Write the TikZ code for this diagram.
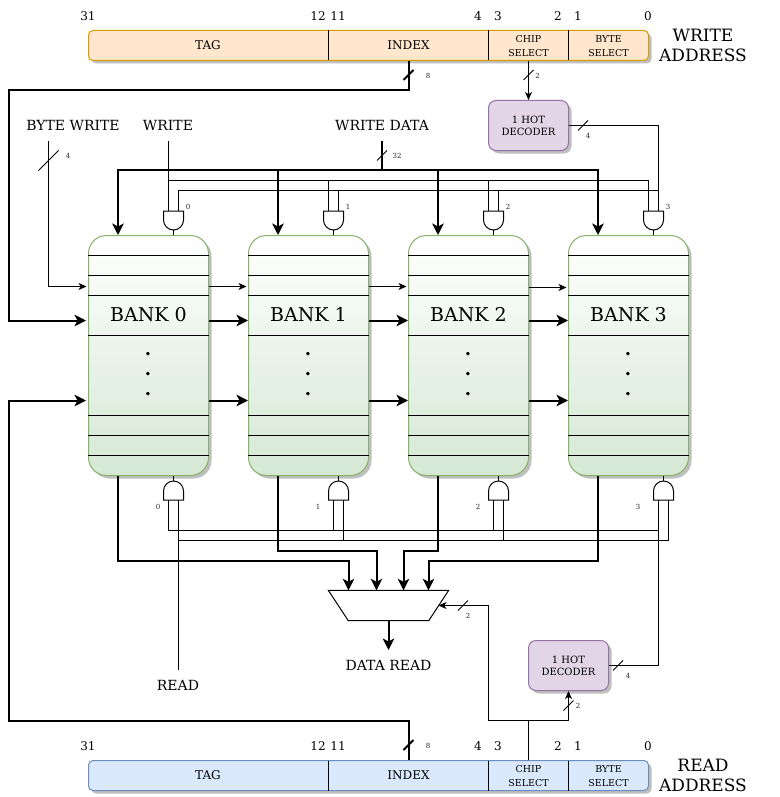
\documentclass[tikz,border=0pt]{standalone}
\usepackage{fontspec}
\setmainfont{DejaVu Serif}
\usetikzlibrary{arrows.meta,shadows,calc}
\definecolor{wfill}{HTML}{FFE6CC}\definecolor{wline}{HTML}{D79B00}
\definecolor{rfill}{HTML}{DAE8FC}\definecolor{rline}{HTML}{6C8EBF}
\definecolor{dfill}{HTML}{E1D5E7}\definecolor{dline}{HTML}{9673A6}
\definecolor{bfill}{HTML}{D5E8D4}\definecolor{bline}{HTML}{82B366}
\tikzset{
  x=1pt,y=-1pt,
  wire/.style={line width=1pt,draw=black},
  bus/.style={line width=2pt,draw=black},
  tipS/.tip={Stealth[length=8pt,width=7pt,inset=2.2pt]},
  tipL/.tip={Stealth[length=11.5pt,width=11.5pt,inset=3pt]},
  wirearrow/.style={wire,-{tipS}},
  busarrow/.style={bus,-{tipL}},
  softshadow/.style={drop shadow={shadow xshift=3pt,shadow yshift=-3pt,fill=black!25,opacity=1}},
  lab/.style={inner sep=0pt,font=\fontsize{12}{14}\selectfont},
  siglab/.style={inner sep=0pt,font=\fontsize{14}{16}\selectfont},
  biglab/.style={inner sep=0pt,align=center,font=\fontsize{17}{20}\selectfont},
  cell/.style={inner sep=0pt,align=center,font=\fontsize{9.5}{14}\selectfont},
  tiny/.style={inner sep=0pt,font=\fontsize{7}{8}\selectfont,text=black!85},
  barbase/.style={rectangle,rounded corners=4.5pt,minimum width=560pt,minimum height=30pt,line width=1pt,inner sep=0pt,softshadow},
  wbar/.style={barbase,fill=wfill,draw=wline},
  rbar/.style={barbase,fill=rfill,draw=rline},
  decoder/.style={rectangle,rounded corners=7.5pt,minimum width=80pt,minimum height=50pt,line width=1pt,fill=dfill,draw=dline,inner sep=0pt,align=center,font=\fontsize{10}{12}\selectfont,softshadow},
  bank/.style={rectangle,rounded corners=18pt,minimum width=120pt,minimum height=240pt,line width=1pt,top color=white,bottom color=bfill,draw=bline,inner sep=0pt,softshadow},
  gatebox/.style={rectangle,minimum width=20pt,minimum height=19pt,inner sep=0pt},
  banktxt/.style={inner sep=0pt,font=\fontsize{19}{20}\selectfont},
  dotmark/.style={inner sep=0pt,anchor=base,font=\bfseries\fontsize{18}{18}\selectfont},
}
\newcommand{\andgate}[4]{%
  \begin{scope}[shift={(#2,#3)},yscale=#4]
    \node[gatebox] (#1) at (0,0) {};
    \draw[wire] (-10,-9.5) -- (10,-9.5) -- (10,-0.5) .. controls (10,5) and (5.5,9.5) .. (0,9.5)
      .. controls (-5.5,9.5) and (-10,5) .. (-10,-0.5) -- cycle;
    \coordinate (#1-a) at (-5,-9.5);
    \coordinate (#1-b) at (5,-9.5);
    \coordinate (#1-o) at (0,9.5);
  \end{scope}}
\newcommand{\busmark}[4][wire]{\draw[#1] ($(#2,#3)+(-#4,#4)$) -- ($(#2,#3)+(#4,-#4)$);}
\begin{document}
\begin{tikzpicture}
\useasboundingbox (0,0) rectangle (779,797);
% rows
\coordinate (rowD) at (0,170);
\coordinate (rowW) at (0,180.5);
\coordinate (rowB) at (0,190.5);
\coordinate (rowA) at (0,286.5);
\coordinate (rowA2) at (0,287.5);
\coordinate (rowI) at (0,320.5);
\coordinate (rowL) at (0,400.5);
\coordinate (rowRa) at (0,530.5);
\coordinate (rowRb) at (0,540.5);
\coordinate (rowO1) at (0,550.5);
\coordinate (rowO2) at (0,560.5);
\coordinate (rowT) at (0,90.5);
\coordinate (rowU) at (0,720.5);
\coordinate (colL) at (8.5,0);
% write address bar
\node[wbar] (wb) at (368.5,45.5) {};
\node[lab] (wtag) at (208,45.5) {TAG};
\node[lab] (windex) at (408.5,45.5) {INDEX};
\node[cell] (wchip) at (528.5,46.5) {CHIP\\SELECT};
\node[cell] (wbyte) at (608.5,46.5) {BYTE\\SELECT};
\draw[wire] (328.5,30.5) -- (328.5,60.5) (488.5,30.5) -- (488.5,60.5) (568.5,30.5) -- (568.5,60.5);
\node[biglab] (wname) at (703,45.5) {WRITE\\ADDRESS};
\foreach \n/\t/\x in {w31/31/88,w12/12/318,w11/11/338,w4/4/478,w3/3/498,w2/2/558,w1/1/578,w0/0/648}
  \node[lab] (\n) at (\x,16) {\t};
% read address bar
\node[rbar] (rb) at (368.5,775.5) {};
\node[lab] (rtag) at (208,775.5) {TAG};
\node[lab] (rindex) at (408.5,775.5) {INDEX};
\node[cell] (rchip) at (528.5,776.5) {CHIP\\SELECT};
\node[cell] (rbyte) at (608.5,776.5) {BYTE\\SELECT};
\draw[wire] (328.5,760.5) -- (328.5,790.5) (488.5,760.5) -- (488.5,790.5) (568.5,760.5) -- (568.5,790.5);
\node[biglab] (rname) at (703,775.5) {READ\\ADDRESS};
\foreach \n/\t/\x in {r31/31/88,r12/12/318,r11/11/338,r4/4/478,r3/3/498,r2/2/558,r1/1/578,r0/0/648}
  \node[lab] (\n) at (\x,746) {\t};
% banks
\foreach \i/\x in {0/148.5,1/308.5,2/468.5,3/628.5}{
  \node[bank] (b\i) at (\x,355.5) {};
  \foreach \y in {255.5,275.5,295.5,335.5,415.5,435.5,455.5}{
    \coordinate (tmp) at (0,\y);
    \draw[wire] (b\i.west |- tmp) -- (b\i.east |- tmp);
  }
  \node[banktxt] (bt\i) at (\x,315) {BANK \i};
  \node[dotmark] (da\i) at (\x-0.5,355) {.};
  \node[dotmark] (db\i) at (\x-0.5,375) {.};
  \node[dotmark] (dc\i) at (\x-0.5,395) {.};
  \coordinate (b\i i) at ([xshift=-30.5pt]b\i.north);
  \coordinate (b\i o) at ([xshift=-30.5pt]b\i.south);
}
% gates
\andgate{wg0}{173.5}{220.5}{1}
\andgate{wg1}{333.5}{220.5}{1}
\andgate{wg2}{493.5}{220.5}{1}
\andgate{wg3}{653.5}{220.5}{1}
\andgate{rg0}{173.5}{490.5}{-1}
\andgate{rg1}{338.5}{490.5}{-1}
\andgate{rg2}{498.5}{490.5}{-1}
\andgate{rg3}{663.5}{490.5}{-1}
\foreach \g in {0,1,2,3}{
  \draw[wire] (wg\g-o) -- (b\g.north -| wg\g-o);
  \draw[wire] (rg\g-o) -- (b\g.south -| rg\g-o);
}
\foreach \n/\t/\x in {wt0/0/188,wt1/1/348,wt2/2/508,wt3/3/668}
  \node[tiny] (\n) at (\x,206.5) {\t};
\foreach \n/\t/\x in {rt0/0/158,rt1/1/318,rt2/2/478,rt3/3/638}
  \node[tiny] (\n) at (\x,506.5) {\t};
% decoders
\node[decoder] (wdec) at (528.5,125.5) {1 HOT\\DECODER};
\node[decoder] (rdec) at (568.5,665.5) {1 HOT\\DECODER};
% mux
\node[inner sep=0pt,minimum width=120pt,minimum height=30pt] (mux) at (388.5,605.5) {};
\draw[wire] (mux.north west) -- (mux.north east) -- ([xshift=-20pt]mux.south east) -- ([xshift=20pt]mux.south west) -- cycle;
\coordinate (muxA) at ([xshift=-40pt]mux.north);
\coordinate (muxB) at ([xshift=-12pt]mux.north);
\coordinate (muxC) at ([xshift=15pt]mux.north);
\coordinate (muxD) at ([xshift=40pt]mux.north);
\coordinate (muxS) at ([xshift=50pt]mux.center);
% signal labels
\node[siglab] (lbw) at (73,125) {BYTE WRITE};
\node[siglab] (lw) at (168,125) {WRITE};
\node[siglab] (lwd) at (382,125) {WRITE DATA};
\node[siglab] (lr) at (178,685) {READ};
\node[siglab] (ldr) at (388.5,665) {DATA READ};
\coordinate (srcBW) at (48.5,141);
\coordinate (srcW) at (168.5,141);
\coordinate (srcWD) at (382,141);
\coordinate (srcR) at (178.5,670);
\coordinate (dstDR) at (388.5,650);
\coordinate (wiOut) at (windex.south |- wb.south);
\coordinate (riOut) at (rindex.north |- rb.north);
\coordinate (wcOut) at (wchip.south |- wb.south);
\coordinate (rcOut) at (rchip.north |- rb.north);
\coordinate (colS) at (488.5,0);
% write enable wiring
\draw[wire] (srcW) -- (wg0-a);
\draw[wire] (wg0-a |- rowW) -| (wg3-a);
\draw[wire] (wg1-a |- rowW) -- (wg1-a);
\draw[wire] (wg2-a |- rowW) -- (wg2-a);
\draw[wire] (wg0-b) |- (wg3-b |- rowB);
\draw[wire] (wg1-b |- rowB) -- (wg1-b);
\draw[wire] (wg2-b |- rowB) -- (wg2-b);
\draw[wire] (wdec.east) -| (wg3-b);
\draw[wirearrow] (wcOut) -- (wdec.north);
% read enable wiring
\draw[wire] (rg0-b) -- (srcR);
\draw[wire] (rg0-a) |- (rg3-a |- rowRa);
\draw[wire] (rg1-a |- rowRa) -- (rg1-a);
\draw[wire] (rg2-a |- rowRa) -- (rg2-a);
\draw[wire] (rg0-b |- rowRb) -| (rg3-b);
\draw[wire] (rg1-b |- rowRb) -- (rg1-b);
\draw[wire] (rg2-b |- rowRb) -- (rg2-b);
\draw[wire] (rdec.east) -| (rg3-a);
% data in
\draw[bus] (srcWD) -- (srcWD |- rowD);
\draw[bus,{tipL}-{tipL}] (b0i) -- (b0i |- rowD) -- (b3i |- rowD) -- (b3i);
\draw[busarrow] (b1i |- rowD) -- (b1i);
\draw[busarrow] (b2i |- rowD) -- (b2i);
% byte write
\draw[wirearrow,shorten >=1.5pt] (srcBW) |- (b0.west |- rowA);
\draw[wirearrow,shorten >=1.5pt] (b0.east |- rowA) -- (b1.west |- rowA);
\draw[wirearrow,shorten >=1.5pt] (b1.east |- rowA) -- (b2.west |- rowA);
\draw[wirearrow,shorten >=1.5pt] (b2.east |- rowA2) -- (b3.west |- rowA2);
% index
\draw[busarrow,shorten >=2pt] (wiOut) -- (wiOut |- rowT) -- (colL |- rowT) -- (colL |- rowI) -- (b0.west |- rowI);
\draw[busarrow,shorten >=2pt] (riOut) -- (riOut |- rowU) -- (colL |- rowU) -- (colL |- rowL) -- (b0.west |- rowL);
\foreach \a/\b in {0/1,1/2,2/3}{
  \draw[busarrow] (b\a.east |- rowI) -- (b\b.west |- rowI);
  \draw[busarrow] (b\a.east |- rowL) -- (b\b.west |- rowL);
}
% data out
\draw[busarrow] (b0o) -- (b0o |- rowO2) -- (muxA |- rowO2) -- (muxA);
\draw[busarrow] (b1o) -- (b1o |- rowO1) -- (muxB |- rowO1) -- (muxB);
\draw[busarrow] (b2o) -- (b2o |- rowO1) -- (muxC |- rowO1) -- (muxC);
\draw[busarrow] (b3o) -- (b3o |- rowO2) -- (muxD |- rowO2) -- (muxD);
\draw[busarrow] (mux.south) -- (dstDR);
% chip select read
\draw[wire] (rcOut) -- (rcOut |- rowU);
\draw[wirearrow] (rcOut |- rowU) -- (colS |- rowU) -- (colS |- muxS) -- (muxS);
\draw[wirearrow] (rcOut |- rowU) -| (rdec.south);
% bus marks
\busmark{48.5}{160.5}{10}
\busmark{382}{155.5}{5}
\busmark[bus]{408.5}{75}{5}
\busmark[bus]{408.5}{745}{5}
\busmark{528.5}{75}{5}
\busmark{583}{125.5}{5}
\busmark{463}{605.5}{5}
\busmark{618}{665.5}{5}
\busmark{568.5}{705.5}{5}
\node[tiny] (m1) at (68,156) {4};
\node[tiny] (m2) at (397,156) {32};
\node[tiny] (m3) at (428,76) {8};
\node[tiny] (m4) at (537.5,76) {2};
\node[tiny] (m5) at (588,136) {4};
\node[tiny] (m6) at (468,616) {2};
\node[tiny] (m7) at (628,676) {4};
\node[tiny] (m8) at (578,706) {2};
\node[tiny] (m9) at (428,746) {8};
\end{tikzpicture}
\end{document}
